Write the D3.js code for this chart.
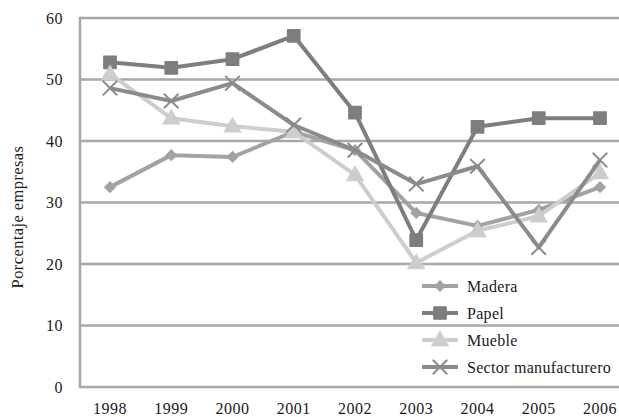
<!DOCTYPE html>
<html>
<head>
<meta charset="utf-8">
<script src="https://cdn.jsdelivr.net/npm/d3@7"></script>
<style>
  html, body { margin: 0; padding: 0; background: #fff; }
  svg { display: block; }
  text { font-family: "Liberation Serif", "DejaVu Serif", serif; fill: #1a1a1a; }
</style>
</head>
<body>
<svg id="chart" width="619" height="417"></svg>
<script>
// Share of firms (%) by year and sector
const years = ["1998", "1999", "2000", "2001", "2002", "2003", "2004", "2005", "2006"];
const madera = [32.5, 37.7, 37.4, 41.5, 38.5, 28.3, 26.2, 28.8, 32.5];
const papel = [52.8, 51.9, 53.3, 57.1, 44.6, 23.9, 42.3, 43.7, 43.7];
const mueble = [50.9, 43.7, 42.4, 41.5, 34.5, 20.2, 25.4, 27.8, 34.8];
const sector = [48.6, 46.5, 49.4, 42.6, 38.5, 33.0, 35.9, 22.7, 36.9];
const seriesNames = ["Madera", "Papel", "Mueble", "Sector manufacturero"];
const yTicks = [0, 10, 20, 30, 40, 50, 60];

const series = [
  { name: seriesNames[0], values: madera, color: "#a2a2a4", marker: "diamond", size: 75 },
  { name: seriesNames[1], values: papel, color: "#7e7e80", marker: "square", size: 150 },
  { name: seriesNames[2], values: mueble, color: "#cdcdcd", marker: "triangle", size: 150 },
  { name: seriesNames[3], values: sector, color: "#8b8b8d", marker: "cross", size: 140 }
];

const svg = d3.select("#chart");
const plotLeft = 80, plotTop = 18, plotBottom = 387;
const step = 61.25;
const x = d3.scalePoint().domain(years).range([110, 110 + step * 8]);
const y = d3.scaleLinear().domain([0, 60]).range([plotBottom, plotTop]);

const gridColor = "#a7a7aa";

// horizontal gridlines
svg.append("g").selectAll("line").data(yTicks).join("line")
  .attr("x1", plotLeft).attr("x2", 619)
  .attr("y1", d => y(d)).attr("y2", d => y(d))
  .attr("stroke", gridColor).attr("stroke-width", 2.5);

// left axis line
svg.append("line")
  .attr("x1", plotLeft).attr("x2", plotLeft)
  .attr("y1", y(60) - 1.25).attr("y2", y(0) + 1.25)
  .attr("stroke", gridColor).attr("stroke-width", 2.5);

// y tick labels
svg.append("g").selectAll("text").data(yTicks).join("text")
  .attr("x", 63).attr("y", d => y(d) + 5.5)
  .attr("text-anchor", "end").attr("font-size", 16).attr("letter-spacing", 0.5)
  .text(d => d);

// x tick labels
svg.append("g").selectAll("text").data(years).join("text")
  .attr("x", d => x(d)).attr("y", 414)
  .attr("text-anchor", "middle").attr("font-size", 16).attr("letter-spacing", 0.5)
  .text(d => d);

// y axis title
svg.append("text")
  .attr("transform", "translate(23,217) rotate(-90)")
  .attr("text-anchor", "middle").attr("font-size", 16.5).attr("letter-spacing", 0.4)
  .text("Porcentaje empresas");

function drawMarker(g, s, cx, cy) {
  if (s.marker === "cross") {
    g.append("path")
      .attr("d", d3.symbol().type(d3.symbolTimes).size(s.size)())
      .attr("transform", `translate(${cx},${cy})`)
      .attr("fill", "none").attr("stroke", s.color).attr("stroke-width", 2);
  } else if (s.marker === "diamond") {
    // square turned 45 degrees
    g.append("path")
      .attr("d", d3.symbol().type(d3.symbolSquare).size(s.size)())
      .attr("transform", `translate(${cx},${cy}) rotate(45)`)
      .attr("fill", s.color);
  } else if (s.marker === "square") {
    g.append("path")
      .attr("d", d3.symbol().type(d3.symbolSquare).size(s.size)())
      .attr("transform", `translate(${cx},${cy})`)
      .attr("fill", s.color)
      .attr("stroke", s.color).attr("stroke-width", 1.5).attr("stroke-linejoin", "round");
  } else {
    g.append("path")
      .attr("d", d3.symbol().type(d3.symbolTriangle).size(s.size)())
      .attr("transform", `translate(${cx},${cy + 1})`)
      .attr("fill", s.color);
  }
}

const line = d3.line().x((d, i) => x(years[i])).y(d => y(d));

series.forEach(s => {
  const g = svg.append("g");
  g.append("path")
    .attr("d", line(s.values))
    .attr("fill", "none").attr("stroke", s.color)
    .attr("stroke-width", 4).attr("stroke-linejoin", "round");
  s.values.forEach((v, i) => drawMarker(g, s, x(years[i]), y(v)));
});

// legend
const legend = svg.append("g");
series.forEach((s, i) => {
  const ly = 286 + i * 27;
  const g = legend.append("g");
  g.append("line").attr("x1", 422).attr("x2", 458).attr("y1", ly).attr("y2", ly)
    .attr("stroke", s.color).attr("stroke-width", 4);
  drawMarker(g, s, 440, ly);
  g.append("text").attr("x", 467).attr("y", ly + 5.5)
    .attr("font-size", 16).attr("letter-spacing", 0.3).text(s.name);
});
</script>
</body>
</html>
